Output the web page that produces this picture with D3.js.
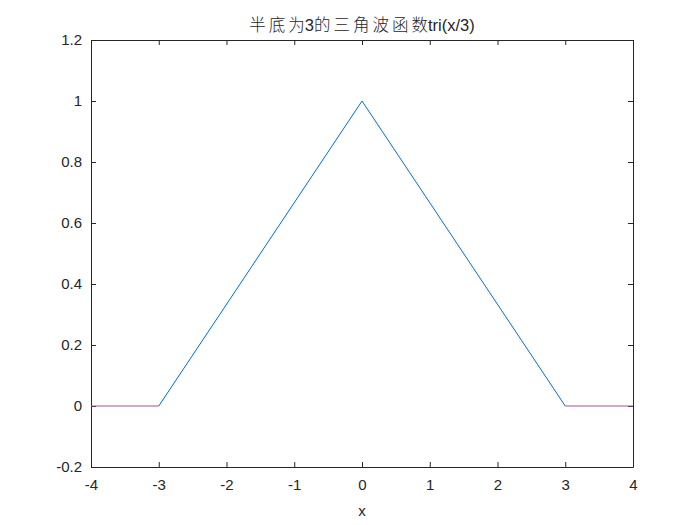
<!DOCTYPE html>
<html>
<head>
<meta charset="utf-8">
<script src="https://cdn.jsdelivr.net/npm/d3@7"></script>
<style>
  body { margin: 0; background: #fff; }
</style>
</head>
<body>
<div id="chart"></div>
<script>
// data
const triX = [-3, 0, 3];
const triY = [0, 1, 0];
const leftFlatX = [-4, -3];
const rightFlatX = [3, 4];
const flatY = [0, 0];
const xTicks = [-4, -3, -2, -1, 0, 1, 2, 3, 4];
const yTicks = [-0.2, 0, 0.2, 0.4, 0.6, 0.8, 1, 1.2];

const W = 700, H = 525;
const margin = { top: 40, right: 67, bottom: 58, left: 91 };
const width = W - margin.left - margin.right;
const height = H - margin.top - margin.bottom;
const latin = "'Liberation Sans', Arial, Helvetica, sans-serif";
const cjk = "'Noto Sans CJK SC', sans-serif";

const svg = d3.select("#chart")
  .append("svg")
    .attr("width", W)
    .attr("height", H);

const g = svg.append("g")
  .attr("transform", `translate(${margin.left},${margin.top})`);

const x = d3.scaleLinear().domain([-4, 4]).range([0, width]);
const y = d3.scaleLinear().domain([-0.2, 1.2]).range([height, 0]);

// plain hyphen for negatives like matlab does
const fmt = d => String(+d.toFixed(1));

// axes, matlab style ticks pointing inwards on all four sides
const tickLen = 5;
g.append("g")
  .attr("transform", `translate(0,${height})`)
  .call(d3.axisBottom(x).tickValues(xTicks).tickSizeInner(-tickLen).tickSizeOuter(0).tickPadding(12).tickFormat(fmt));
g.append("g")
  .call(d3.axisTop(x).tickValues(xTicks).tickSizeInner(-tickLen).tickSizeOuter(0).tickFormat(""));
g.append("g")
  .call(d3.axisLeft(y).tickValues(yTicks).tickSizeInner(-tickLen).tickSizeOuter(0).tickPadding(9).tickFormat(fmt));
g.append("g")
  .attr("transform", `translate(${width},0)`)
  .call(d3.axisRight(y).tickValues(yTicks).tickSizeInner(-tickLen).tickSizeOuter(0).tickFormat(""));

g.selectAll(".domain").attr("stroke", "#262626");
g.selectAll(".tick line").attr("stroke", "#262626");
g.selectAll(".tick text")
  .attr("fill", "#262626")
  .style("font-family", latin)
  .style("font-size", "15px");

const line = d3.line().x(d => x(d[0])).y(d => y(d[1]));

// flat parts (purple-ish)
[leftFlatX, rightFlatX].forEach(xs => {
  g.append("path")
    .datum(xs.map((v, i) => [v, flatY[i]]))
    .attr("fill", "none")
    .attr("stroke", "#a4558f")
    .attr("stroke-width", 1)
    .attr("d", line);
});

// triangle
g.append("path")
  .datum(triX.map((v, i) => [v, triY[i]]))
  .attr("fill", "none")
  .attr("stroke", "#0072BD")
  .attr("stroke-width", 1)
  .attr("d", line);

// title: cjk chars are drawn a bit spaced out in the original,
// but sit tight against the latin bits
const titleParts = [
  { t: "半底", f: cjk, ls: 3 },
  { t: "为", f: cjk, ls: 0 },
  { t: "3", f: latin, ls: 0 },
  { t: "的三角波函", f: cjk, ls: 3 },
  { t: "数", f: cjk, ls: 0 },
  { t: "tri(x/3)", f: latin, ls: 0 }
];
const title = svg.append("text")
  .attr("x", margin.left + width / 2)
  .attr("y", margin.top - 9)
  .attr("text-anchor", "middle")
  .attr("fill", "#262626");
title.selectAll("tspan")
  .data(titleParts)
  .join("tspan")
    .style("font-family", d => d.f)
    .style("font-size", "16.5px")
    .style("font-weight", d => d.f === cjk ? "300" : "normal")
    .style("letter-spacing", d => d.ls + "px")
    .text(d => d.t);

svg.append("text")
  .attr("x", margin.left + width / 2)
  .attr("y", H - 9)
  .attr("text-anchor", "middle")
  .style("font-family", latin)
  .style("font-size", "15px")
  .attr("fill", "#262626")
  .text("x");
</script>
</body>
</html>
